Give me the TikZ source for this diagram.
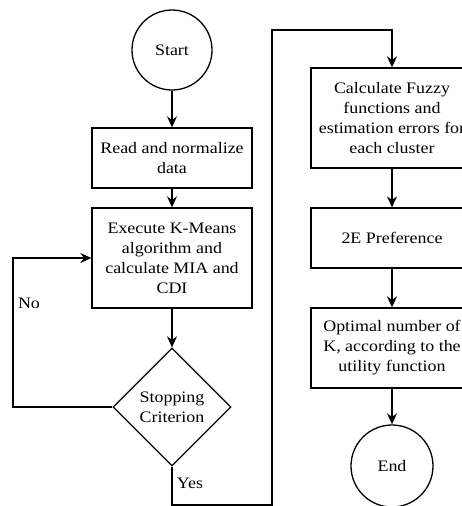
\documentclass[tikz,border=0pt]{standalone}
\usepackage{fontspec}
\setmainfont{Liberation Serif}[FakeStretch=1.12]
\usetikzlibrary{shapes.geometric,arrows.meta}

\begin{document}
\begin{tikzpicture}[x=1pt, y=-1pt, > = {Stealth[length=11pt,width=10pt]}, line width=1.3pt,
    every node/.style={font=\fontsize{16}{20}\selectfont, align=center},
    term/.style={draw, circle, minimum size=80pt, inner sep=0pt},
    proc/.style={draw, rectangle, minimum width=160pt, inner sep=2pt},
    decide/.style={draw, diamond, minimum width=118pt, minimum height=118pt, inner sep=0pt}]
  \useasboundingbox (0,0) rectangle (462,506);
  \clip (0,0) rectangle (462,506);
  % left column
  \node[term] (start) at (172,50) {Start};
  \node[proc, minimum height=60pt] (read) at (172,158) {Read and normalize\\data};
  \node[proc, minimum height=100pt] (exec) at (172,258) {Execute K-Means\\algorithm and\\calculate MIA and\\CDI};
  \node[decide] (stop) at (172,407) {Stopping\\Criterion};
  % right column
  \node[proc, minimum width=162pt, minimum height=100pt] (fuzzy) at (392,118) {Calculate Fuzzy\\functions and\\estimation errors for\\each cluster};
  \node[proc, minimum width=162pt, minimum height=60pt] (pref) at (392,238) {2E Preference};
  \node[proc, minimum width=162pt, minimum height=80pt] (opt) at (392,348) {Optimal number of\\K, according to the\\utility function};
  \node[term, minimum size=82pt] (end) at (392,466) {End};
  \node (no) at (29,303) {No};
  \node (yes) at (190,483) {Yes};
  \coordinate (nobend) at (13,258);
  \coordinate (yesbot) at (272,505);
  \coordinate (yestop) at (272,30);
  \draw[->] (start) -- (read);
  \draw[->] (read) -- (exec);
  \draw[->] (exec) -- (stop);
  \draw[->] (stop.west) -| (nobend) -- (exec.west);
  \draw[->] (stop.south) |- (yesbot) -- (yestop) -| (fuzzy.north);
  \draw[->] (fuzzy) -- (pref);
  \draw[->] (pref) -- (opt);
  \draw[->] (opt) -- (end);
\end{tikzpicture}
\end{document}
